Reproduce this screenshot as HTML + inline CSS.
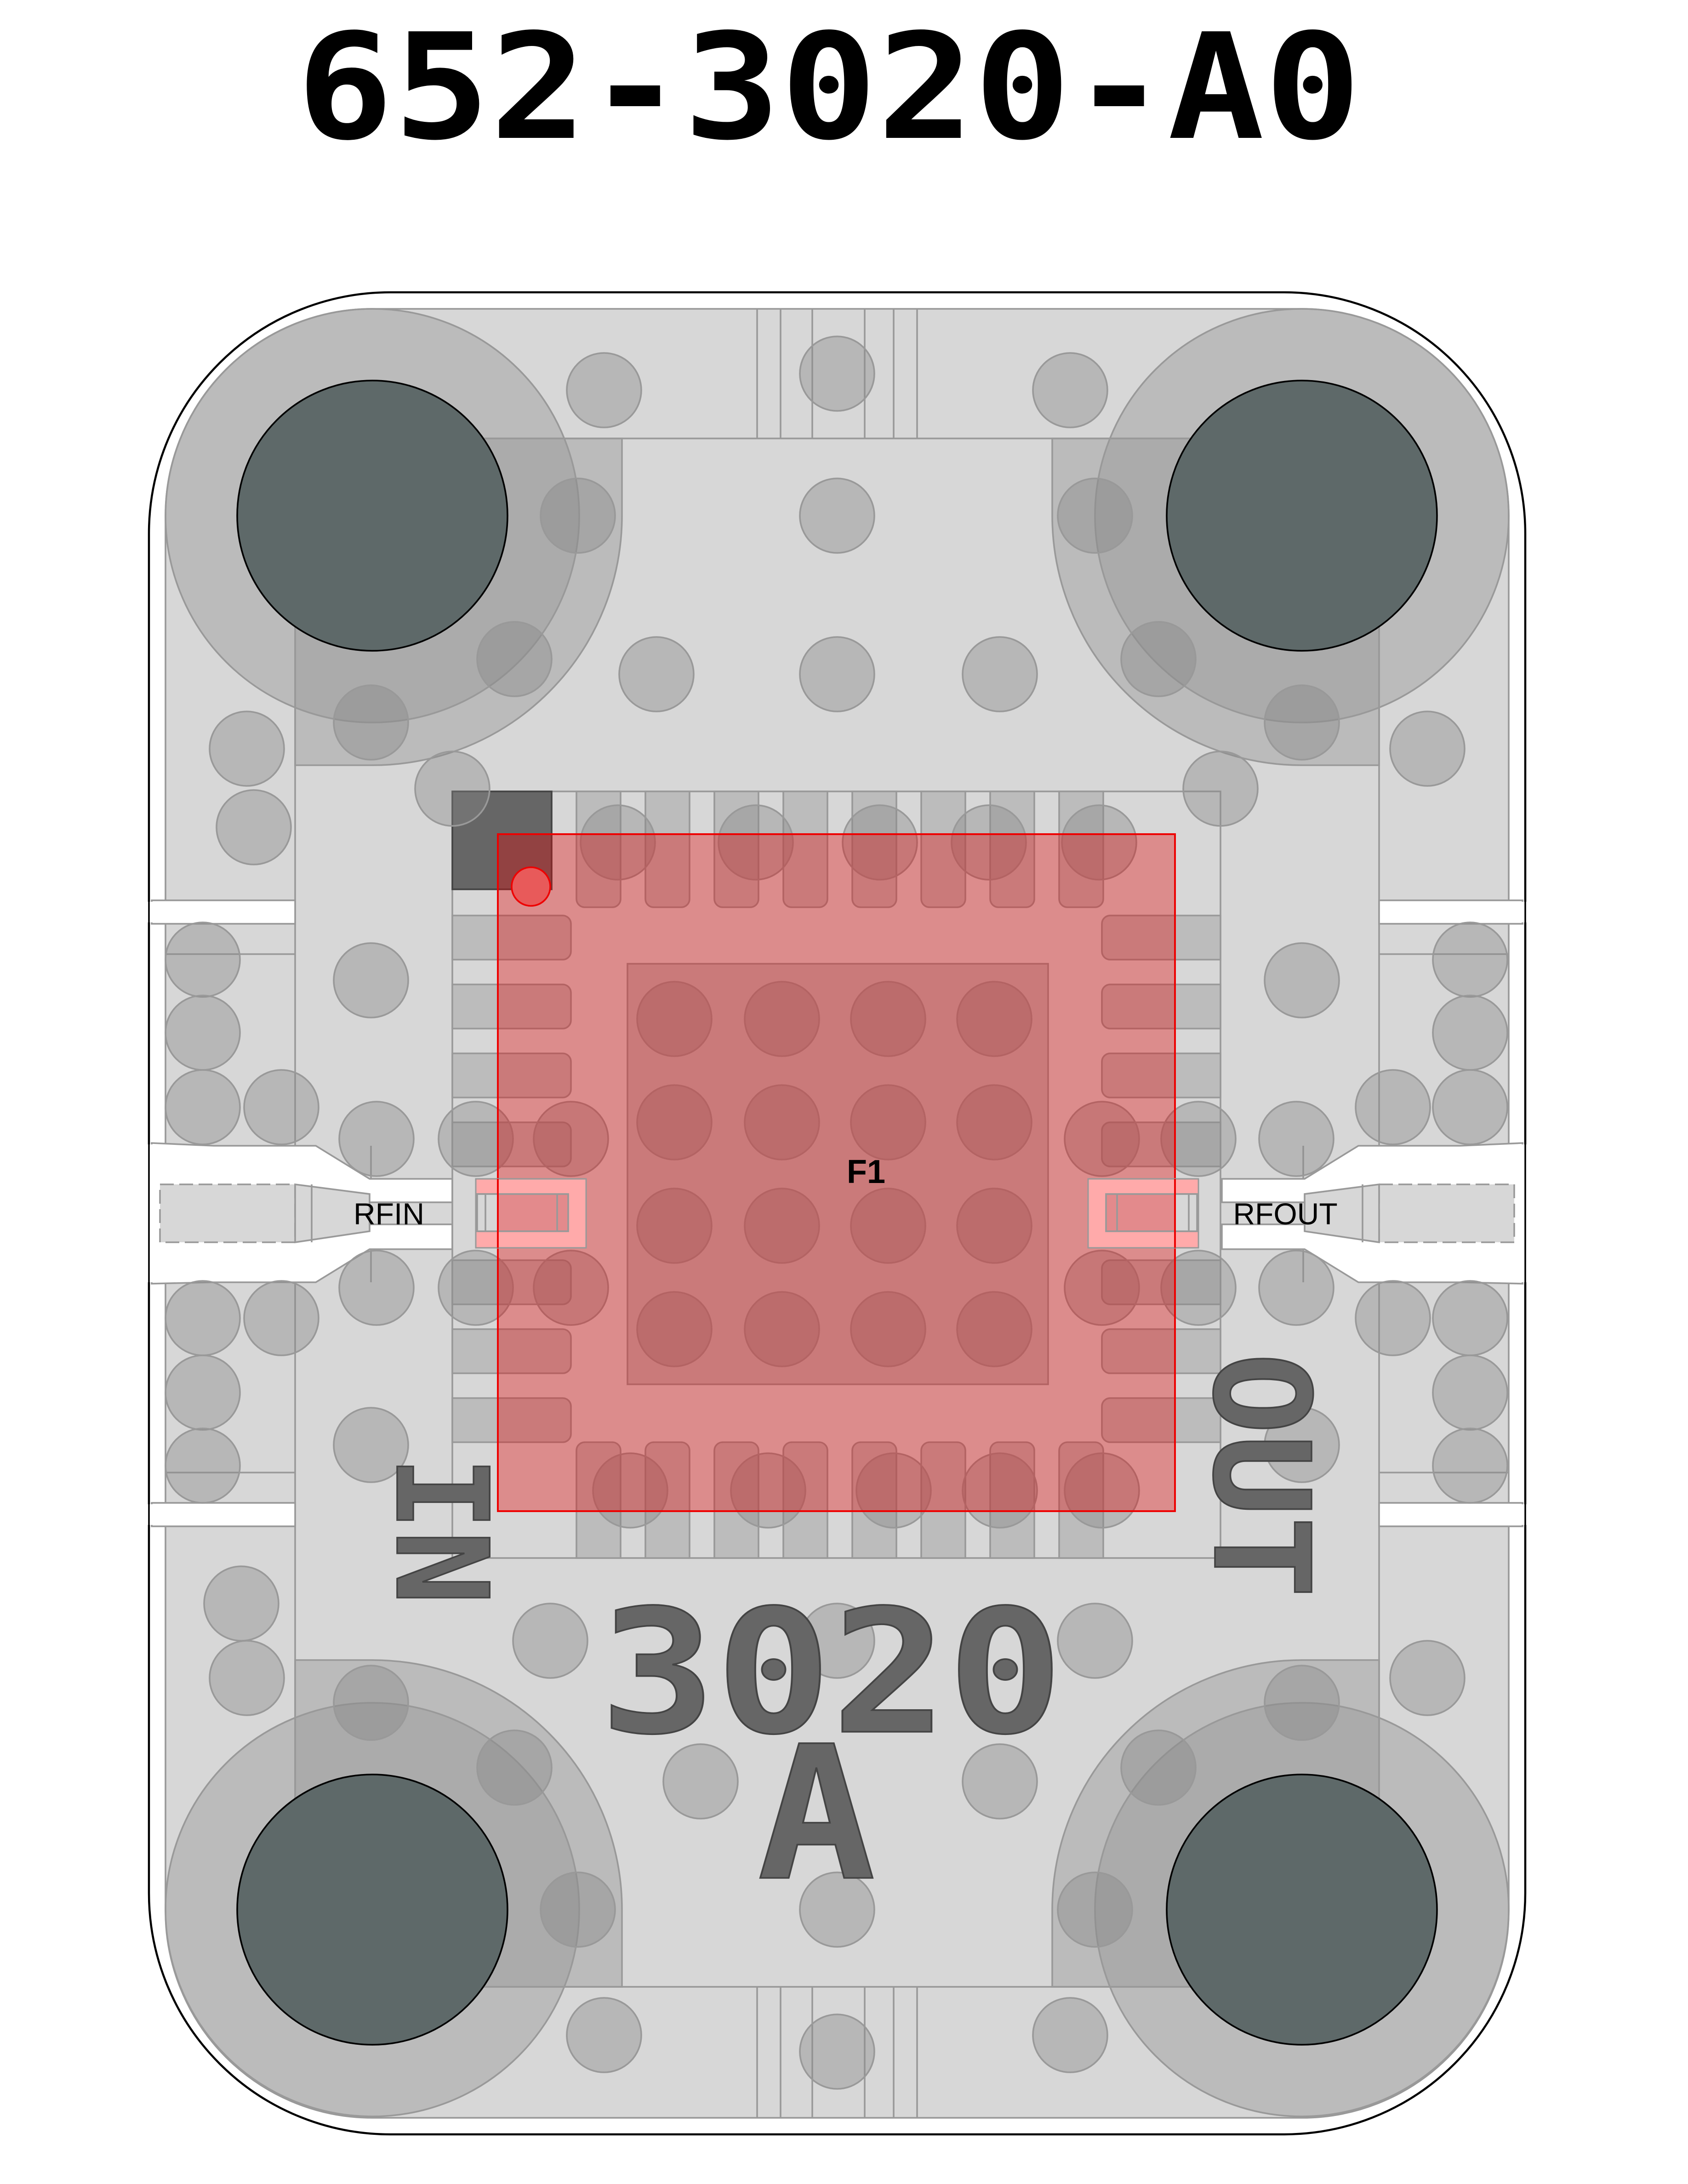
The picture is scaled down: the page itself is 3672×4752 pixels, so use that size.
<!DOCTYPE html>
<html><head><meta charset="utf-8"><style>
html,body{margin:0;padding:0;background:#fff;}
svg{display:block;}
</style></head><body>
<svg width="3672" height="4752" viewBox="0 0 1224 1584" xmlns="http://www.w3.org/2000/svg">
<defs>
<style>
.pl{fill:#d7d7d7;stroke:#999;stroke-width:1.2;}
.v{fill:#888;fill-opacity:0.4;stroke:#999;stroke-width:1.2;}
.ln{stroke:#999;stroke-width:1.2;fill:none;}
.pin{fill:#bcbcbc;stroke:#999;stroke-width:1.2;}
.ov{fill:#999;fill-opacity:0.45;stroke:#999;stroke-width:1.2;}
.hole{fill:#5e6969;stroke:#000;stroke-width:1.2;}
.sk{font-family:"DejaVu Sans Mono","Liberation Mono",monospace;font-weight:bold;fill:#666;stroke:#444;stroke-width:1.2;}
</style>
</defs>
<text x="601" y="100" text-anchor="middle" font-family="DejaVu Sans Mono, Liberation Mono, monospace" font-weight="bold" font-size="106" textLength="772" lengthAdjust="spacingAndGlyphs">652-3020-A0</text>

<rect x="108" y="212" width="998" height="1336" rx="175" ry="175" fill="#fff" stroke="#000" stroke-width="1.5"/>

<!-- main plane -->
<rect x="120" y="224" width="974" height="1312" rx="150" ry="150" class="pl"/>
<rect x="214" y="318" width="786" height="1123" class="pl"/>
<g class="ln">
<line x1="549" y1="224" x2="549" y2="318"/><line x1="566" y1="224" x2="566" y2="318"/><line x1="589" y1="224" x2="589" y2="318"/>
<line x1="627" y1="224" x2="627" y2="318"/><line x1="648" y1="224" x2="648" y2="318"/><line x1="665" y1="224" x2="665" y2="318"/>
<line x1="549" y1="1441" x2="549" y2="1536"/><line x1="566" y1="1441" x2="566" y2="1536"/><line x1="589" y1="1441" x2="589" y2="1536"/>
<line x1="627" y1="1441" x2="627" y2="1536"/><line x1="648" y1="1441" x2="648" y2="1536"/><line x1="665" y1="1441" x2="665" y2="1536"/>
<line x1="120" y1="692" x2="214" y2="692"/><line x1="1000" y1="692" x2="1094" y2="692"/>
<line x1="120" y1="1068" x2="214" y2="1068"/><line x1="1000" y1="1068" x2="1094" y2="1068"/>
</g>

<!-- white gaps -->
<g fill="#fff" stroke="#999" stroke-width="1.2">
<rect x="110" y="653" width="104" height="17"/>
<rect x="1000" y="653" width="104" height="17"/>
<rect x="110" y="1090" width="104" height="17"/>
<rect x="1000" y="1090" width="104" height="17"/>
<polygon points="110,829 155,831 229,831 268,855 328,855 328,906 268,906 229,930 155,930 110,931"/>
<polygon points="1104,829 1059,831 985,831 946,855 886,855 886,906 946,906 985,930 1059,930 1104,931"/>
</g>
<rect x="106" y="654" width="13" height="15" fill="#fff"/><rect x="1095" y="654" width="13" height="15" fill="#fff"/>
<rect x="106" y="1091" width="13" height="15" fill="#fff"/><rect x="1095" y="1091" width="13" height="15" fill="#fff"/>
<rect x="106" y="830" width="13" height="100" fill="#fff"/><rect x="1095" y="830" width="13" height="100" fill="#fff"/>
<g class="ln"><line x1="108" y1="640" x2="108" y2="1120" stroke="#000"/><line x1="1106" y1="640" x2="1106" y2="1120" stroke="#000"/>
<line x1="269" y1="831" x2="269" y2="855"/><line x1="269" y1="906" x2="269" y2="930"/>
<line x1="945" y1="831" x2="945" y2="855"/><line x1="945" y1="906" x2="945" y2="930"/></g>

<!-- RF lines -->
<g class="pl">
<rect x="116" y="859" width="98" height="42" stroke-dasharray="10 4"/>
<polygon points="214,859 268,866 268,893 214,901"/>
<rect x="268" y="872" width="78" height="16"/>
<rect x="1000" y="859" width="98" height="42" stroke-dasharray="10 4"/>
<polygon points="1000,859 946,866 946,893 1000,901"/>
<rect x="868" y="872" width="78" height="16"/>
</g>
<line x1="226" y1="859" x2="226" y2="901" class="ln"/><line x1="988" y1="859" x2="988" y2="901" class="ln"/>

<!-- corner rounded pads -->
<path class="ov" d="M214,318 H451 V374 A181,181 0 0 1 270,555 H214 Z"/>
<path class="ov" d="M1000,318 H763 V374 A181,181 0 0 0 944,555 H1000 Z"/>
<path class="ov" d="M214,1441 H451 V1385 A181,181 0 0 0 270,1204 H214 Z"/>
<path class="ov" d="M1000,1441 H763 V1385 A181,181 0 0 1 944,1204 H1000 Z"/>
<circle cx="270" cy="374" r="150" class="ov"/>
<circle cx="944" cy="374" r="150" class="ov"/>
<circle cx="270" cy="1385" r="150" class="ov"/>
<circle cx="944" cy="1385" r="150" class="ov"/>
<circle cx="270" cy="374" r="98" class="hole"/>
<circle cx="944" cy="374" r="98" class="hole"/>
<circle cx="270" cy="1385" r="98" class="hole"/>
<circle cx="944" cy="1385" r="98" class="hole"/>

<!-- chip -->
<rect x="328" y="574" width="557" height="556" fill="#d7d7d7" stroke="#999" stroke-width="1.2"/>
<g class="pin">
<path d="M418,574h32v78a6,6 0 0 1 -6,6h-20a6,6 0 0 1 -6,-6z"/>
<path d="M468,574h32v78a6,6 0 0 1 -6,6h-20a6,6 0 0 1 -6,-6z"/>
<path d="M518,574h32v78a6,6 0 0 1 -6,6h-20a6,6 0 0 1 -6,-6z"/>
<path d="M568,574h32v78a6,6 0 0 1 -6,6h-20a6,6 0 0 1 -6,-6z"/>
<path d="M618,574h32v78a6,6 0 0 1 -6,6h-20a6,6 0 0 1 -6,-6z"/>
<path d="M668,574h32v78a6,6 0 0 1 -6,6h-20a6,6 0 0 1 -6,-6z"/>
<path d="M718,574h32v78a6,6 0 0 1 -6,6h-20a6,6 0 0 1 -6,-6z"/>
<path d="M768,574h32v78a6,6 0 0 1 -6,6h-20a6,6 0 0 1 -6,-6z"/>
<path d="M418,1130h32v-78a6,6 0 0 0 -6,-6h-20a6,6 0 0 0 -6,6z"/>
<path d="M468,1130h32v-78a6,6 0 0 0 -6,-6h-20a6,6 0 0 0 -6,6z"/>
<path d="M518,1130h32v-78a6,6 0 0 0 -6,-6h-20a6,6 0 0 0 -6,6z"/>
<path d="M568,1130h32v-78a6,6 0 0 0 -6,-6h-20a6,6 0 0 0 -6,6z"/>
<path d="M618,1130h32v-78a6,6 0 0 0 -6,-6h-20a6,6 0 0 0 -6,6z"/>
<path d="M668,1130h32v-78a6,6 0 0 0 -6,-6h-20a6,6 0 0 0 -6,6z"/>
<path d="M718,1130h32v-78a6,6 0 0 0 -6,-6h-20a6,6 0 0 0 -6,6z"/>
<path d="M768,1130h32v-78a6,6 0 0 0 -6,-6h-20a6,6 0 0 0 -6,6z"/>
<path d="M328,664h80a6,6 0 0 1 6,6v20a6,6 0 0 1 -6,6h-80z"/>
<path d="M328,714h80a6,6 0 0 1 6,6v20a6,6 0 0 1 -6,6h-80z"/>
<path d="M328,764h80a6,6 0 0 1 6,6v20a6,6 0 0 1 -6,6h-80z"/>
<path d="M328,814h80a6,6 0 0 1 6,6v20a6,6 0 0 1 -6,6h-80z"/>
<path d="M328,914h80a6,6 0 0 1 6,6v20a6,6 0 0 1 -6,6h-80z"/>
<path d="M328,964h80a6,6 0 0 1 6,6v20a6,6 0 0 1 -6,6h-80z"/>
<path d="M328,1014h80a6,6 0 0 1 6,6v20a6,6 0 0 1 -6,6h-80z"/>
<path d="M885,664h-80a6,6 0 0 0 -6,6v20a6,6 0 0 0 6,6h80z"/>
<path d="M885,714h-80a6,6 0 0 0 -6,6v20a6,6 0 0 0 6,6h80z"/>
<path d="M885,764h-80a6,6 0 0 0 -6,6v20a6,6 0 0 0 6,6h80z"/>
<path d="M885,814h-80a6,6 0 0 0 -6,6v20a6,6 0 0 0 6,6h80z"/>
<path d="M885,914h-80a6,6 0 0 0 -6,6v20a6,6 0 0 0 6,6h80z"/>
<path d="M885,964h-80a6,6 0 0 0 -6,6v20a6,6 0 0 0 6,6h80z"/>
<path d="M885,1014h-80a6,6 0 0 0 -6,6v20a6,6 0 0 0 6,6h80z"/>
</g>
<rect x="328" y="574" width="72" height="71" fill="#666" stroke="#444" stroke-width="1.2"/>
<rect x="455" y="699" width="305" height="305" fill="#bcbcbc" stroke="#999" stroke-width="1.2"/>

<!-- vias -->
<g class="v">
<circle cx="438" cy="283" r="27"/><circle cx="607" cy="271" r="27"/><circle cx="776" cy="283" r="27"/>
<circle cx="419" cy="374" r="27"/><circle cx="607" cy="374" r="27"/><circle cx="794" cy="374" r="27"/>
<circle cx="373" cy="478" r="27"/><circle cx="476" cy="489" r="27"/><circle cx="607" cy="489" r="27"/><circle cx="725" cy="489" r="27"/><circle cx="840" cy="478" r="27"/>
<circle cx="269" cy="524" r="27"/><circle cx="944" cy="524" r="27"/>
<circle cx="179" cy="543" r="27"/><circle cx="1035" cy="543" r="27"/>
<circle cx="184" cy="600" r="27"/><circle cx="328" cy="572" r="27"/><circle cx="885" cy="572" r="27"/>
<circle cx="448" cy="611" r="27"/><circle cx="548" cy="611" r="27"/><circle cx="638" cy="611" r="27"/><circle cx="717" cy="611" r="27"/><circle cx="797" cy="611" r="27"/>
<circle cx="269" cy="711" r="27"/><circle cx="944" cy="711" r="27"/>
<circle cx="147" cy="696" r="27"/><circle cx="147" cy="749" r="27"/><circle cx="147" cy="803" r="27"/><circle cx="204" cy="803" r="27"/>
<circle cx="1066" cy="696" r="27"/><circle cx="1066" cy="749" r="27"/><circle cx="1066" cy="803" r="27"/><circle cx="1010" cy="803" r="27"/>
<circle cx="273" cy="826" r="27"/><circle cx="345" cy="826" r="27"/><circle cx="414" cy="826" r="27"/><circle cx="799" cy="826" r="27"/><circle cx="869" cy="826" r="27"/><circle cx="940" cy="826" r="27"/>
<circle cx="273" cy="934" r="27"/><circle cx="345" cy="934" r="27"/><circle cx="414" cy="934" r="27"/><circle cx="799" cy="934" r="27"/><circle cx="869" cy="934" r="27"/><circle cx="940" cy="934" r="27"/>
<circle cx="147" cy="956" r="27"/><circle cx="204" cy="956" r="27"/><circle cx="147" cy="1010" r="27"/><circle cx="147" cy="1063" r="27"/>
<circle cx="1066" cy="956" r="27"/><circle cx="1010" cy="956" r="27"/><circle cx="1066" cy="1010" r="27"/><circle cx="1066" cy="1063" r="27"/>
<circle cx="269" cy="1048" r="27"/><circle cx="944" cy="1048" r="27"/>
<circle cx="457" cy="1081" r="27"/><circle cx="557" cy="1081" r="27"/><circle cx="648" cy="1081" r="27"/><circle cx="725" cy="1081" r="27"/><circle cx="799" cy="1081" r="27"/>
<circle cx="175" cy="1163" r="27"/><circle cx="179" cy="1217" r="27"/><circle cx="399" cy="1190" r="27"/><circle cx="607" cy="1190" r="27"/><circle cx="794" cy="1190" r="27"/><circle cx="1035" cy="1217" r="27"/>
<circle cx="269" cy="1235" r="27"/><circle cx="944" cy="1235" r="27"/>
<circle cx="373" cy="1282" r="27"/><circle cx="508" cy="1292" r="27"/><circle cx="725" cy="1292" r="27"/><circle cx="840" cy="1282" r="27"/>
<circle cx="419" cy="1385" r="27"/><circle cx="607" cy="1385" r="27"/><circle cx="794" cy="1385" r="27"/>
<circle cx="438" cy="1476" r="27"/><circle cx="607" cy="1488" r="27"/><circle cx="776" cy="1476" r="27"/>
<circle cx="489" cy="739" r="27"/><circle cx="567" cy="739" r="27"/><circle cx="644" cy="739" r="27"/><circle cx="721" cy="739" r="27"/>
<circle cx="489" cy="814" r="27"/><circle cx="567" cy="814" r="27"/><circle cx="644" cy="814" r="27"/><circle cx="721" cy="814" r="27"/>
<circle cx="489" cy="889" r="27"/><circle cx="567" cy="889" r="27"/><circle cx="644" cy="889" r="27"/><circle cx="721" cy="889" r="27"/>
<circle cx="489" cy="964" r="27"/><circle cx="567" cy="964" r="27"/><circle cx="644" cy="964" r="27"/><circle cx="721" cy="964" r="27"/>
</g>

<!-- silkscreen text -->
<text class="sk" font-size="92" transform="translate(288,1056) rotate(90)" textLength="108" lengthAdjust="spacingAndGlyphs">IN</text>
<text class="sk" font-size="96" transform="translate(881,981) rotate(90)" textLength="178" lengthAdjust="spacingAndGlyphs">OUT</text>
<text class="sk" x="603" y="1256" text-anchor="middle" font-size="124" textLength="336" lengthAdjust="spacingAndGlyphs">3020</text>
<text class="sk" x="592" y="1362" text-anchor="middle" font-size="134" textLength="86" lengthAdjust="spacingAndGlyphs">A</text>

<!-- red overlay -->
<rect x="361" y="605" width="491" height="491" fill="#e60000" fill-opacity="0.35" stroke="#e00" stroke-width="1.3"/>
<circle cx="385" cy="643" r="14" fill="#e85a5a" stroke="#e00" stroke-width="1.2"/>

<!-- RF pads (above overlay) -->
<rect x="345" y="855" width="80" height="50" fill="#ffaaaa" stroke="#999" stroke-width="1"/>
<rect x="789" y="855" width="80" height="50" fill="#ffaaaa" stroke="#999" stroke-width="1"/>
<rect x="346" y="866" width="66" height="27" fill="#e38a8c" stroke="#999" stroke-width="1.2"/>
<rect x="802" y="866" width="66" height="27" fill="#e38a8c" stroke="#999" stroke-width="1.2"/>
<rect x="346" y="866" width="15" height="27" class="pl"/>
<rect x="852" y="866" width="16" height="27" class="pl"/>
<g class="ln"><line x1="352" y1="866" x2="352" y2="893"/><line x1="404" y1="866" x2="404" y2="893"/>
<line x1="862" y1="866" x2="862" y2="893"/><line x1="810" y1="866" x2="810" y2="893"/></g>
<line x1="361" y1="855" x2="361" y2="905" stroke="#e00" stroke-width="1.3"/>
<line x1="852" y1="855" x2="852" y2="905" stroke="#e00" stroke-width="1.3"/>

<text x="628" y="858" text-anchor="middle" font-family="Liberation Sans, sans-serif" font-weight="bold" font-size="24">F1</text>
<text x="282" y="888" text-anchor="middle" font-family="Liberation Sans, sans-serif" font-size="22">RFIN</text>
<text x="932" y="888" text-anchor="middle" font-family="Liberation Sans, sans-serif" font-size="22">RFOUT</text>
</svg>
</body></html>
